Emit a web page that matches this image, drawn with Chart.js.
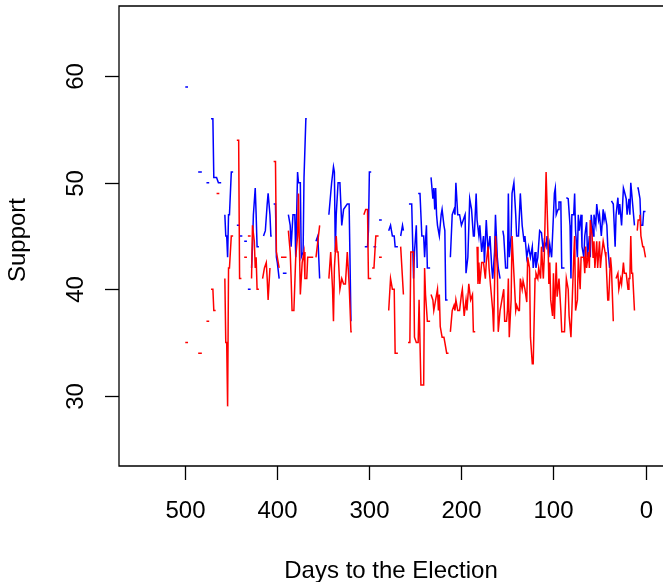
<!DOCTYPE html>
<html>
<head>
<meta charset="utf-8">
<script src="https://cdn.jsdelivr.net/npm/chart.js@4/dist/chart.umd.min.js"></script>
<style>
  html, body { margin: 0; padding: 0; background: #fff; }
  canvas { display: block; }
</style>
</head>
<body>
<canvas id="polls" width="663" height="582"></canvas>
<script>
// Poll support by days to the election (null = no poll, line breaks).
var blueDays = [500,497,490, 486,482,480, 477,474,473,
  472,470,469,466,464,461,460,
  457,456,455,454,453,452,450,448,446,
  444,441.5,441.2, 441,438,437, 436,433,432.5, 432,429,428.5,
  428,427,426,424,423,422,420,418,
  415,413,411,410,408,407,406,405,
  404,402,401,400,398,396, 394,390,389,
  388,386,385,383,381,380,379,378,377,375,374,372,371,369,368,363,
  358,356,354,350,
  344,341,339,338,337,336,334,332,330,328,324,322,320,312,
  305,302,301,300,298,296, 295.5,292.5,291, 289.5,286.5,282,
  279,277,275,273,272,269,267.5, 266,264,263,260,
  257,254,252,251,249,248,247.5,
  247,245,243,241,240,238,237,234,233.5,
  233,231,230,229,228,227,226,224,222,221,219,218,217,215,213,
  212,210,208,207,206,204,202,200,198,196,195,193,191,189,187,186,184,183,181,180,178,176,175,173,171,169,167,166,164,163,161,160,158,157,
  155,154,152,150,149,148,146,145,143,141,140,138,136,134,132,131,129,127,125,123,122,120,119,117,115,113,111,110,108,107,105,104,102,100,99,98,97,95,94,92,91,88,87,
  86,84,82,81,80,78,77,76,74,73,72,70,69,67,66,64,63,61,60,59,57,56,54,53,51,50,48,46,45,44,42,41,39,38,
  37,35,33,32,30,29,28,26,24,23,21,20,18,17,16,14,12,11,
  9,8,6,5,3,2,0];
var blueSupport = [59,59,null, 51,51,null, 50,50,null,
  56,56,50.5,50.5,50,50,null,
  47,45,45,43,47,47,51,51,null,
  46,46,null, 45,45,null, 44.5,44.5,null, 40,40,null,
  42,44,47,49.5,47,44,44,null,
  45,45.5,48,49,47,45,45,null,
  48,48,43,42.5,41,null, 41.5,41.5,null,
  47,46,44,47,47,43,47,51,50,50,43,43.5,50.5,56,56,null,
  44.5,45,41,null,
  47,50,51.5,51,43.5,47,50,50,46,47.5,48,48,37,null,
  44,44,45.5,51,51,null, 44,44,null, 46.5,46.5,null,
  45.5,46,45,45,44,44,null, 45,46,45.5,null,
  48,48,41,43.5,46,42,null,
  49,49,45,45,43,46,42,42,null,
  50.5,48.5,49.5,47.5,49.5,47,46,45,47,47.5,46,45.5,39,39,null,
  43,47,47.5,47,50,47,47,46,46.5,47,41.5,43,48.5,47.5,45,45,49,46.5,45,46,43.5,45,42.5,46.5,43.5,45,42,41,43.5,47,43,42,41,null,
  45.5,45,42,42,49,43,45,49,50,47,45,45,49,46,44.5,45,43,44,43,44,42,43.5,42,43,45.5,45.3,43.5,44.5,44,45,43,44.2,43,47,49,49.5,47,47.5,48.2,48.2,42,42,null,
  48.6,48.5,46,41,47,47,49,45.5,43,47,45.5,47,44,43,45,46.3,43,45,43,47,45,47,46,48,46.5,47,45,47.5,46.5,47,46,44,42,null,
  48.3,48,44,47,48.6,47,48,46,49.5,49.2,48.5,47,48.5,47,50,48,46,null,
  49.5,49.5,48.5,46,46,47.3,47.3];

var redDays = [500,497,490, 486,482,480, 477,474,473,
  472,470,469,467,466.5, 466,463,460,
  457,456,455,454,453,452,450,448,446,
  444,442,441,439,437, 436,433,432.5, 432,429,428.5,
  428,427,425,424,423,422,420,418,
  416,414,412,411,410,408,405,
  404,402,401,400,398,397, 396,390,389,
  388,386,385,384,382,380,378,377,376,375,373,371,370,368,367,361,360,
  358,356,354,350,
  344,342,340,339,338,336,335,334,332,330,328,326,324,322,320,319,312,
  306,304,302,301,298,297.5, 297,295,293,290,289.5, 289.5,286.5,282,
  279,277,275,273,272,269,267.5, 266,263,260,
  258,256,255,252,251,249,247,246,245,244,241,240,239,237,234,233.5,
  233,231,230,228,226,225,224,223,221,219,218,216,214,213,
  212,210,208,207,206,204,202,200,199,197,195,194,192,190,188,187,185,184,
  183,182,181,180,178,176,174,173,171,170,168,166,165,163,161,160,158,156,154,153,151,150,149,148,146,145,143,141,140,138,137,136,134,133,131,129,128,126,125,123,122,120,119,117,116,114,113,111,110,108,106,105,104,103,101,100,99,97,96,94,92,91,88,86,84,83,81,80,78,77,76,74,73,71,70,67,66,65,64,62,61,60,58,57,56,55,53,52,50,49,48,46,44,43,41,40,38,37,35,33,
  32,30,29,27,26,24,23,21,19,18,17,16,15,14,12,11,
  9,8,7,6,5,3,2,0];
var redSupport = [35,35,null, 34,34,null, 37,37,null,
  40,40,38,38,null, 49,49,null,
  41,35,35,29,42,42,45,45,null,
  54,54,41,41,null, 43,43,null, 45,45,null,
  41,46,44.5,42,43,40,40,null,
  41,42,42.5,41,39,42,null,
  52,52,43.5,43,42,null, 43,43,null,
  45.5,43.5,41,38,38,43,45,49,44,39.5,42.5,43.5,41,41,43,43,null,
  43,44.5,46,null,
  41,43.5,40,37,42,45,43.5,43.5,40,41,40.5,40.5,43.5,40.5,36,36,null,
  47,47.5,47.5,41,41,null, 42,42,45,45,null, 43,43,null,
  38,41,40,40,34,34,null, 44,39.5,null,
  35,35,43.5,43.5,35.5,35,35,39,39,31,31,42,39.5,37,37,null,
  39.5,39,38,39,40,38,39.5,36.5,35.5,35.5,35,34,34,null,
  36,38,38.5,38,39,38,38,39.5,40,37.5,39,38,40.5,39,39.5,36,36,null,
  44,40.5,42.5,40.5,42.5,42.5,41,42.5,44,42,40,38,36,45,42,36,38,39,40,37,37,38,41,35.5,39,45,41.5,38,38.5,38,38,41,40,40.8,40,38.8,43,42,35.5,33,33,41,41.5,41,42,41,44,41,43,51,45,40.5,42.5,39,37.5,41.5,37.2,42.5,39.3,41,38,36,36,41,40,37.5,35.5,38,43,45,38,39,43,40,43,43,41.5,44,42,43.5,42,46.5,45,43,44.5,42,44.5,42,44.5,42,43,44.5,43.5,43,39,39,43,42,37,null,
  41,41.5,40,41,40.5,42.5,41.5,41.5,40,41,41,45,41.5,41.5,38,null,
  45.5,46.5,46.5,47,45,44,44,43];

var xTicks = [500, 400, 300, 200, 100, 0];
var yTicks = [30, 40, 50, 60];
var xTitle = 'Days to the Election';
var yTitle = 'Support';

function toPoints(days, vals) {
  return days.map(function(d, i) { return { x: d, y: vals[i] }; });
}

var FONT = '24px "Liberation Sans", Arial, sans-serif';

// R style box, ticks and labels drawn from the chart scales.
var baseAxes = {
  id: 'baseAxes',
  afterDraw: function(chart) {
    var ctx = chart.ctx, a = chart.chartArea;
    var xs = chart.scales.x, ys = chart.scales.y;
    ctx.save();
    ctx.strokeStyle = '#000';
    ctx.lineWidth = 1.3;
    ctx.beginPath();
    ctx.moveTo(chart.width + 5, a.top);
    ctx.lineTo(a.left, a.top);
    ctx.lineTo(a.left, a.bottom);
    ctx.lineTo(chart.width + 5, a.bottom);
    ctx.stroke();

    ctx.fillStyle = '#000';
    ctx.font = FONT;
    ctx.textAlign = 'center';
    ctx.textBaseline = 'middle';

    xTicks.forEach(function(t) {
      var px = Math.round(xs.getPixelForValue(t)) + 0.5;
      ctx.beginPath();
      ctx.moveTo(px, a.bottom);
      ctx.lineTo(px, a.bottom + 14);
      ctx.stroke();
      ctx.fillText(String(t), px, 511);
    });

    yTicks.forEach(function(t) {
      var py = Math.round(ys.getPixelForValue(t)) + 0.5;
      ctx.beginPath();
      ctx.moveTo(a.left, py);
      ctx.lineTo(a.left - 14, py);
      ctx.stroke();
      ctx.save();
      ctx.translate(76, py);
      ctx.rotate(-Math.PI / 2);
      ctx.fillText(String(t), 0, 0);
      ctx.restore();
    });

    ctx.fillText(xTitle, (a.left + 663) / 2, 571);
    ctx.save();
    ctx.translate(18, (a.top + a.bottom) / 2 + 4);
    ctx.rotate(-Math.PI / 2);
    ctx.fillText(yTitle, 0, 0);
    ctx.restore();
    ctx.restore();
  }
};

new Chart(document.getElementById('polls'), {
  type: 'line',
  data: {
    datasets: [
      { label: 'Blue', data: toPoints(blueDays, blueSupport), borderColor: '#0000ff',
        borderWidth: 1.5, pointRadius: 0, tension: 0, spanGaps: false, order: 2 },
      { label: 'Red', data: toPoints(redDays, redSupport), borderColor: '#ff0000',
        borderWidth: 1.5, pointRadius: 0, tension: 0, spanGaps: false, order: 1 }
    ]
  },
  options: {
    responsive: false,
    animation: false,
    devicePixelRatio: 1,
    layout: { padding: { left: 119, top: 6, right: 0, bottom: 116 } },
    plugins: { legend: { display: false }, tooltip: { enabled: false } },
    scales: {
      x: { type: 'linear', reverse: true, min: -19, max: 572, display: false },
      y: { type: 'linear', min: 23.4, max: 66.6, display: false }
    }
  },
  plugins: [baseAxes]
});
</script>
</body>
</html>
